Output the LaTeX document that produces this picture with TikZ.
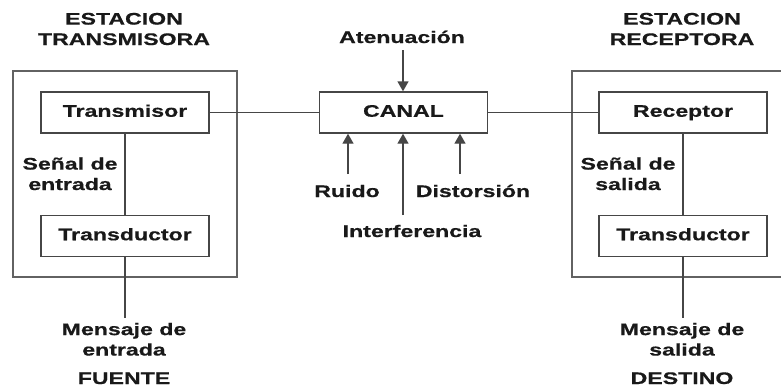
\documentclass[tikz,border=0pt]{standalone}
\usepackage{fontspec}
\setmainfont{Liberation Sans}[FakeStretch=1.38,BoldFeatures={FakeBold=0.6}]
\usetikzlibrary{arrows.meta}
\definecolor{linegray}{RGB}{70,70,70}
\definecolor{textblack}{RGB}{25,25,25}

\begin{document}
\begin{tikzpicture}[x=1bp,y=-1bp,
    every node/.style={font=\fontsize{16.8}{20.5}\selectfont\bfseries,text=textblack},
    block/.style={draw=linegray,line width=1.4bp,minimum width=168bp,minimum height=41bp,
      inner sep=0pt,text height=12bp,text depth=3.5bp},
    station/.style={draw=linegray!85,line width=1.4bp,minimum width=224bp,minimum height=206bp,inner sep=0pt},
    label/.style={align=center,anchor=base},
    wire/.style={draw=linegray,line width=1.4bp},
    arr/.style={wire,-{Triangle[length=10bp,width=11bp]}}]
    \useasboundingbox (0,0) rectangle (781,387);
    \clip (0,0) rectangle (781,387);
    % stations
    \node[station] (txst) at (125,174) {};
    \node[station] (rxst) at (684,174) {};
    \node[label] (hdrtx) at (124,45) {ESTACION\\TRANSMISORA};
    \node[label] (hdrrx) at (682,45) {ESTACION\\RECEPTORA};
    % blocks
    \node[block] (tx) at (125,112.5) {Transmisor};
    \node[block] (tdin) at (125,236) {Transductor};
    \node[block] (canal) at (403.5,112.5) {CANAL};
    \node[block] (rx) at (683,112.5) {Receptor};
    \node[block] (tdout) at (683,236) {Transductor};
    \draw[wire] (tx) -- (canal);
    \draw[wire] (canal) -- (rx);
    \draw[wire] (tx) -- (tdin);
    \draw[wire] (rx) -- (tdout);
    \node[label] (sigin) at (70,190) {Señal de\\entrada};
    \node[label] (sigout) at (628,190) {Señal de\\salida};
    % source and destination
    \coordinate (msgintop) at (125,318);
    \coordinate (msgouttop) at (683,318);
    \draw[wire] (tdin) -- (msgintop);
    \draw[wire] (tdout) -- (msgouttop);
    \node[label] (msgin) at (124,355.5) {Mensaje de\\entrada};
    \node[label] (fuente) at (124,384) {FUENTE};
    \node[label] (msgout) at (682,355.5) {Mensaje de\\salida};
    \node[label] (destino) at (682,384) {DESTINO};
    % channel effects
    \coordinate (atentail) at (403,50);
    \coordinate (ruidotail) at (348,174);
    \coordinate (interftail) at (403,215);
    \coordinate (disttail) at (460,174);
    \draw[arr] (atentail) -- (atentail |- canal.north);
    \draw[arr] (ruidotail) -- (ruidotail |- canal.south);
    \draw[arr] (interftail) -- (interftail |- canal.south);
    \draw[arr] (disttail) -- (disttail |- canal.south);
    \node[label] (aten) at (402,43) {Atenuación};
    \node[label] (ruido) at (347,197) {Ruido};
    \node[label] (dist) at (473,197) {Distorsión};
    \node[label] (interf) at (412,237) {Interferencia};
\end{tikzpicture}
\end{document}
